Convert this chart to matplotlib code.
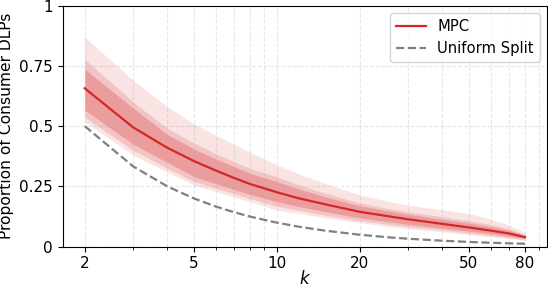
import numpy as np
import matplotlib
matplotlib.use('Agg')
import matplotlib.pyplot as plt
from matplotlib.ticker import FixedLocator, NullFormatter

# ── Data ──
k = [2, 3, 4, 5, 6, 7, 8, 10, 12, 15, 20, 25, 30, 40, 50, 60, 70, 80]
mpc_median = [0.657, 0.495, 0.410, 0.355, 0.316, 0.285, 0.260, 0.226, 0.201, 0.176,
              0.145, 0.128, 0.114, 0.095, 0.080, 0.067, 0.055, 0.040]
outer_hi = [0.869, 0.690, 0.580, 0.510, 0.462, 0.424, 0.392, 0.340, 0.302, 0.262,
            0.215, 0.190, 0.172, 0.153, 0.138, 0.115, 0.090, 0.058]
mid_hi = [0.778, 0.600, 0.490, 0.430, 0.386, 0.352, 0.325, 0.290, 0.257, 0.222,
          0.182, 0.160, 0.145, 0.124, 0.108, 0.092, 0.075, 0.050]
inner_hi = [0.736, 0.575, 0.465, 0.405, 0.364, 0.332, 0.304, 0.270, 0.240, 0.207,
            0.170, 0.150, 0.135, 0.114, 0.098, 0.083, 0.068, 0.046]
inner_lo = [0.567, 0.425, 0.350, 0.290, 0.262, 0.237, 0.217, 0.187, 0.167, 0.145,
            0.120, 0.105, 0.093, 0.077, 0.065, 0.054, 0.044, 0.034]
mid_lo = [0.537, 0.400, 0.325, 0.270, 0.243, 0.220, 0.200, 0.168, 0.151, 0.131,
          0.108, 0.094, 0.083, 0.069, 0.057, 0.047, 0.038, 0.030]
outer_lo = [0.519, 0.380, 0.310, 0.256, 0.229, 0.206, 0.187, 0.152, 0.139, 0.120,
            0.100, 0.086, 0.075, 0.062, 0.050, 0.041, 0.034, 0.027]
uniform = [0.5, 0.3333, 0.25, 0.2, 0.1667, 0.1429, 0.125, 0.1, 0.0833, 0.0667,
           0.05, 0.04, 0.0333, 0.025, 0.02, 0.0167, 0.0143, 0.0125]

x_ticks = [2, 5, 10, 20, 50, 80]
y_ticks = [0, 0.25, 0.5, 0.75, 1]
y_labels = ['0', '0.25', '0.5', '0.75', '1']

fig = plt.figure(figsize=(5.48, 2.91), dpi=100)
ax = fig.add_axes([0.1144, 0.152, 0.884, 0.829])

red = '#d62728'
ax.fill_between(k, outer_lo, outer_hi, color=red, alpha=0.13, linewidth=0)
ax.fill_between(k, mid_lo, mid_hi, color=red, alpha=0.16, linewidth=0)
ax.fill_between(k, inner_lo, inner_hi, color=red, alpha=0.25, linewidth=0)
ax.plot(k, mpc_median, color=red, linewidth=1.6, label='MPC')
ax.plot(k, uniform, color='gray', linestyle='--', linewidth=1.6, label='Uniform Split')

ax.set_xscale('log')
ax.xaxis.set_major_locator(FixedLocator(x_ticks))
ax.set_xticklabels([str(t) for t in x_ticks])
ax.xaxis.set_minor_formatter(NullFormatter())
ax.set_yticks(y_ticks)
ax.set_yticklabels(y_labels)
ax.set_ylim(0, 1)
ax.tick_params(axis='both', which='major', labelsize=11)

ax.grid(True, which='major', linestyle='--', alpha=0.3)
ax.grid(True, which='minor', axis='x', linestyle='--', alpha=0.3)

ax.set_xlabel('$k$', fontsize=12)
ax.xaxis.set_label_coords(0.5, -0.095)
ax.set_ylabel('Proportion of Consumer DLPs', fontsize=11.2)
ax.yaxis.set_label_coords(-0.1, 0.5)
ax.legend(loc='upper right', fontsize=10.6)

plt.savefig('out.png', dpi=100)
